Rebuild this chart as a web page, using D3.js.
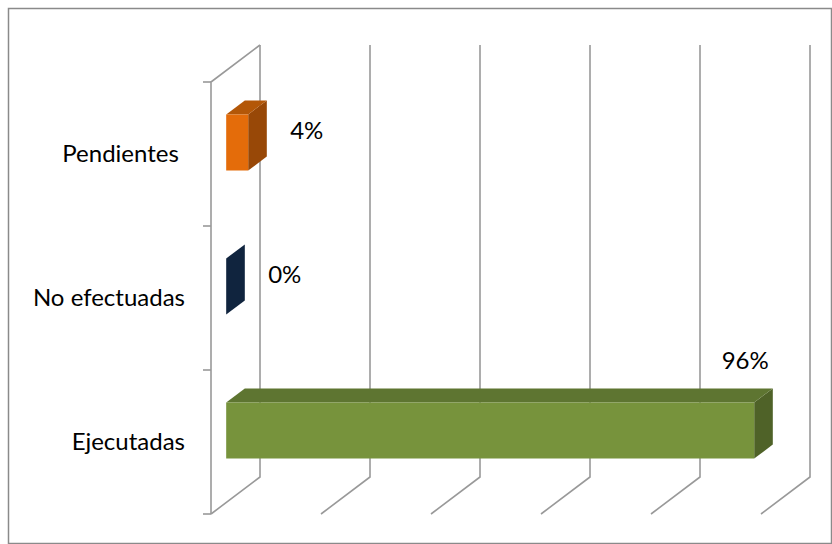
<!DOCTYPE html>
<html>
<head>
<meta charset="utf-8">
<script src="https://cdn.jsdelivr.net/npm/d3@7"></script>
<style>
  body { margin: 0; background: #fff; }
  svg { display: block; }
  text { font-family: Lato, "Open Sans", sans-serif; fill: #000; }
</style>
</head>
<body>
<svg id="chart" width="832" height="544"></svg>
<script>
// data (top to bottom)
const categories = ["Pendientes ", "No efectuadas", "Ejecutadas"];
const values = [0.04, 0.00, 0.96];
const valueLabels = ["4%", "0%", "96%"];
const gridTicks = [0, 0.2, 0.4, 0.6, 0.8, 1];

// face colours: front, top, side
const palette = [
  { front: "#E46C0A", top: "#B35708", side: "#984807" },
  { front: "#17375E", top: "#10253F", side: "#10243E" },
  { front: "#77933C", top: "#5E7531", side: "#4F6228" }
];

const width = 832, height = 544;
const depth = { dx: 49, dy: -37 };   // front plane -> back wall
const barZ = [0.31, 0.69];          // bar front/back, as fraction of depth
const fontSize = 24;

const svg = d3.select("#chart");

// outer frame
svg.append("rect")
  .attr("x", 8.5).attr("y", 8.5)
  .attr("width", width - 9).attr("height", height - 9)
  .attr("fill", "none").attr("stroke", "#8a8a8a").attr("stroke-width", 1.5);

// scales on the front plane
const x = d3.scaleLinear().domain([0, 1]).range([211, 761]);
const y = d3.scaleBand().domain(categories).range([82, 514]).padding(0);

const P = (px, py, z) => [px + z * depth.dx, py + z * depth.dy];
const poly = pts => "M" + pts.map(p => p.join(",")).join("L") + "Z";
const line = pts => "M" + pts.map(p => p.join(",")).join("L");

const grid = svg.append("g")
  .attr("fill", "none")
  .attr("stroke", "#999")
  .attr("stroke-width", 1.6);

const yTop = y.range()[0], yBot = y.range()[1];

// back wall verticals + floor diagonals
gridTicks.forEach(t => {
  grid.append("path").attr("d", line([P(x(t), yTop, 1), P(x(t), yBot, 1), P(x(t), yBot, 0)]));
});

// left wall: front edge, top edge, ticks
grid.append("path").attr("d", line([P(x(0), yTop, 1), P(x(0), yTop, 0), P(x(0), yBot, 0)]));
const tickYs = categories.map(c => y(c)).concat([yBot]);
tickYs.forEach(ty => {
  grid.append("path").attr("d", line([[x(0) - 8, ty], [x(0), ty]]));
});

// category labels
svg.append("g").selectAll("text")
  .data(categories)
  .join("text")
  .attr("x", x(0) - 26)
  .attr("y", c => y(c) + y.bandwidth() / 2)
  .attr("dy", "0.35em")
  .attr("text-anchor", "end")
  .attr("font-size", fontSize)
  .style("white-space", "pre")
  .text(c => c);

// 3D bars
const barH = y.bandwidth() * 0.39;
const bars = svg.append("g");
categories.forEach((c, i) => {
  const x0 = x(0), x1 = x(values[i]);
  const yc = y(c) + y.bandwidth() / 2;
  const yt = yc - barH / 2, yb = yc + barH / 2;
  const [z0, z1] = barZ;
  const g = bars.append("g");
  g.append("path").attr("fill", palette[i].side)
    .attr("d", poly([P(x1, yt, z0), P(x1, yt, z1), P(x1, yb, z1), P(x1, yb, z0)]));
  if (values[i] > 0) {
    g.append("path").attr("fill", palette[i].top)
      .attr("d", poly([P(x0, yt, z0), P(x1, yt, z0), P(x1, yt, z1), P(x0, yt, z1)]));
    g.append("path").attr("fill", palette[i].front)
      .attr("d", poly([P(x0, yt, z0), P(x1, yt, z0), P(x1, yb, z0), P(x0, yb, z0)]));
  }
});

// data labels
svg.append("g").selectAll("text")
  .data(categories)
  .join("text")
  .attr("font-size", fontSize)
  .each(function (c, i) {
    const v = values[i];
    const yc = y(c) + y.bandwidth() / 2 + barZ[0] * depth.dy;
    const xe = P(x(v), 0, barZ[0])[0];
    const t = d3.select(this).text(valueLabels[i]);
    if (v > 0.5) {
      t.attr("x", xe - 9).attr("y", yc - barH / 2 + depth.dy * (barZ[1] - barZ[0]) - 19)
        .attr("text-anchor", "middle");
    } else {
      t.attr("x", xe + 42).attr("y", yc - 4).attr("text-anchor", "start");
    }
  });
</script>
</body>
</html>
